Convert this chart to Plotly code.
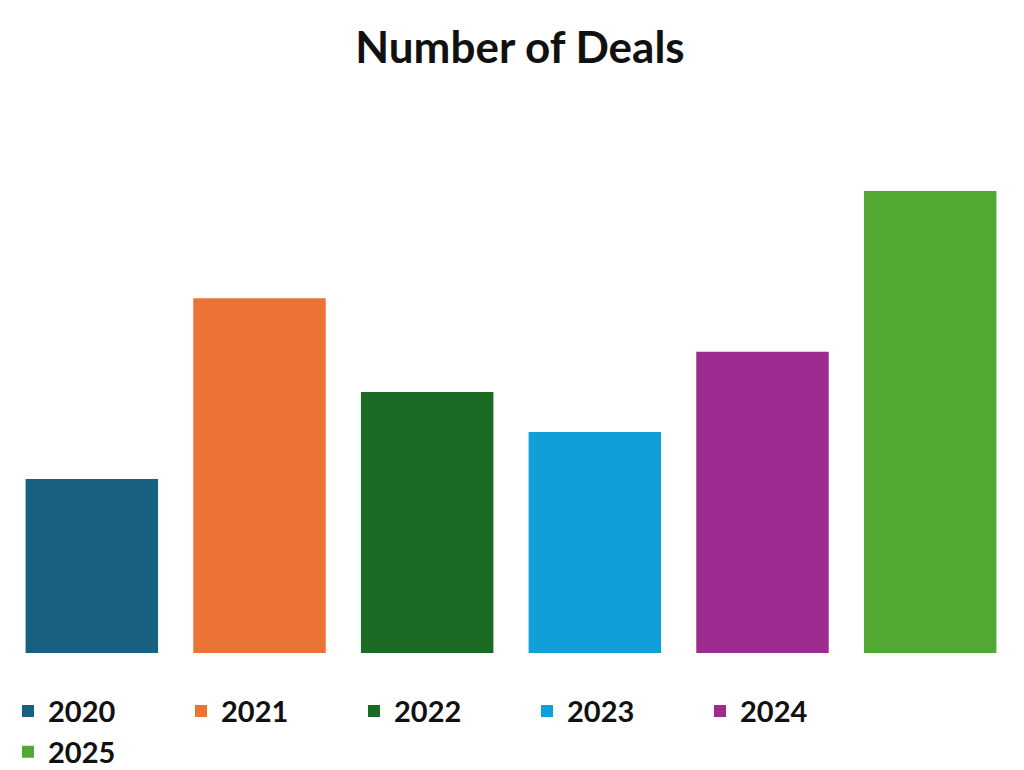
import plotly.graph_objects as go

years = ["2020", "2021", "2022", "2023", "2024", "2025"]
deals = [26, 53, 39, 33, 45, 69]
colors = ["#17607f", "#eb7334", "#1b6b24", "#109fd8", "#9e2b8f", "#51a832"]

fig = go.Figure()
for y, v, c in zip(years, deals, colors):
    fig.add_trace(go.Bar(x=[y], y=[v], name="<b>" + y + "</b>", marker_color=c,
                         width=0.79, marker_line_width=0))

fig.update_layout(
    width=1024, height=770,
    paper_bgcolor="white", plot_bgcolor="white",
    barmode="overlay",
    margin=dict(l=0, r=18, t=100, b=100),
    title=dict(text="<b>Number of Deals</b>", x=0.5, xanchor="center", y=0.948,
               yanchor="middle", font=dict(family="Lato", size=44, color="#111")),
    xaxis=dict(visible=False, categoryorder="array", categoryarray=years),
    yaxis=dict(visible=False, range=[0, 81.4]),
    legend=dict(orientation="h", x=0.0, y=-0.06, xanchor="left", yanchor="top",
                entrywidth=128, entrywidthmode="pixels",
                font=dict(family="Lato", size=29, color="#111"),
                itemwidth=30, traceorder="normal"),
    font=dict(family="Lato"),
)
fig.write_html("out.html")
